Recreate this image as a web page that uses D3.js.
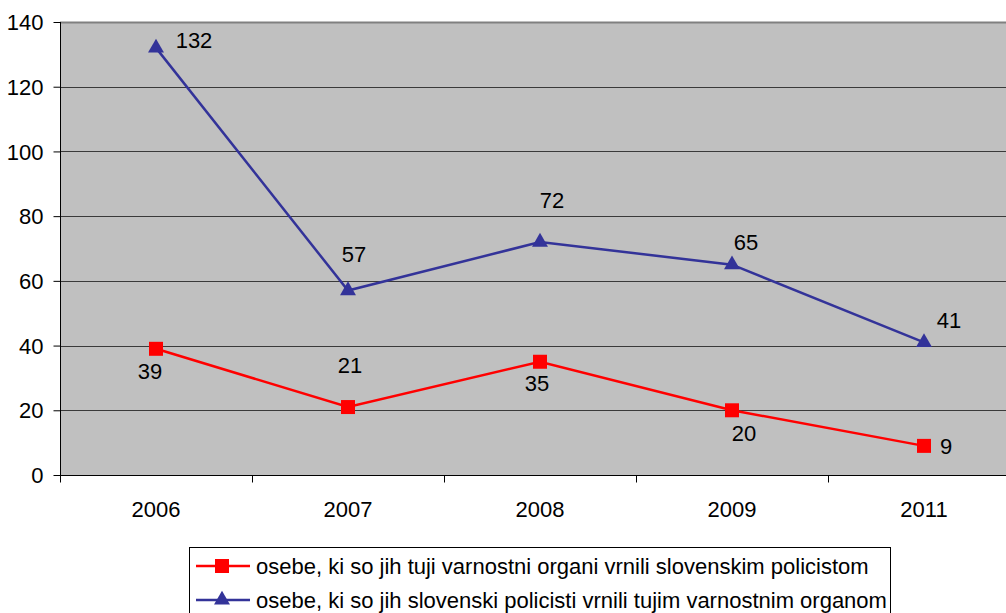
<html>
<head>
<script src="https://d3js.org/d3.v7.min.js"></script>
<style>
  body { margin: 0; background: #fff; }
  text { font-family: "Liberation Sans", Arial, sans-serif; fill: #000; }
</style>
</head>
<body>
<div id="chart"></div>
<script>
const years = ["2006", "2007", "2008", "2009", "2011"];
const redValues = [39, 21, 35, 20, 9];
const blueValues = [132, 57, 72, 65, 41];
const yTicks = [0, 20, 40, 60, 80, 100, 120, 140];
const seriesNames = [
  "osebe, ki so jih tuji varnostni organi vrnili slovenskim policistom",
  "osebe, ki so jih slovenski policisti vrnili tujim varnostnim organom"
];
// label placement per point: [dx, dy]
const redLabelPos = [[-6, 22], [2, -42], [-3, 22], [12, 23], [22, 0]];
const blueLabelPos = [[38, -8], [6, -36], [12, -42], [14, -22], [25, -22]];

const fontSize = "22px";

const svg = d3.select("#chart").append("svg")
  .attr("width", 1006).attr("height", 613);

const margin = { left: 60, top: 22 };
const plotW = 960, plotH = 453;

const x = d3.scaleBand().domain(years).range([margin.left, margin.left + plotW]);
const y = d3.scaleLinear().domain([0, 140]).range([margin.top + plotH, margin.top]);

svg.append("rect")
  .attr("x", margin.left).attr("y", margin.top)
  .attr("width", plotW).attr("height", plotH)
  .attr("fill", "#c0c0c0");

// gridlines
svg.append("g").selectAll("line")
  .data(yTicks.filter(d => d > 0))
  .join("line")
  .attr("x1", margin.left).attr("x2", margin.left + plotW)
  .attr("y1", d => Math.round(y(d)) + 0.5).attr("y2", d => Math.round(y(d)) + 0.5)
  .attr("stroke", d => d === 140 ? "#808080" : "#3a3a3a")
  .attr("stroke-width", d => d === 140 ? 2 : 1);

// y axis
const yAxis = svg.append("g")
  .attr("transform", `translate(${margin.left + 0.5},0)`)
  .call(d3.axisLeft(y).tickValues(yTicks).tickSize(7).tickPadding(10));
yAxis.selectAll("text").style("font-size", fontSize).attr("dy", "0.35em");
yAxis.selectAll("line, path").attr("stroke", "#000");
yAxis.select(".domain").attr("d", `M0,${margin.top}V${margin.top + plotH}`);

// x axis
const xAxis = svg.append("g")
  .attr("transform", `translate(0,${margin.top + plotH + 0.5})`)
  .call(d3.axisBottom(x).tickSize(0).tickPadding(26));
xAxis.selectAll("text").style("font-size", fontSize);
xAxis.select(".domain").attr("stroke", "#000").attr("d", `M${margin.left},0H${margin.left + plotW}`);
xAxis.selectAll(".bnd").data(d3.range(years.length + 1)).join("line")
  .attr("x1", i => Math.round(margin.left + i * x.bandwidth()) + 0.5)
  .attr("x2", i => Math.round(margin.left + i * x.bandwidth()) + 0.5)
  .attr("y1", 0).attr("y2", 7).attr("stroke", "#000");

const cx = d => x(d) + x.bandwidth() / 2;

function drawSeries(values, color, marker, labelPos) {
  const pts = values.map((v, i) => ({ year: years[i], v, i }));
  svg.append("path")
    .datum(pts)
    .attr("fill", "none").attr("stroke", color).attr("stroke-width", 2.5)
    .attr("d", d3.line().x(d => cx(d.year)).y(d => y(d.v)));
  svg.append("g").selectAll("path")
    .data(pts).join("path")
    .attr("d", d3.symbol().type(marker).size(marker === d3.symbolSquare ? 196 : 110))
    .attr("transform", d => `translate(${cx(d.year)},${y(d.v)})`)
    .attr("fill", color);
  svg.append("g").selectAll("text")
    .data(pts).join("text")
    .attr("x", d => cx(d.year) + labelPos[d.i][0])
    .attr("y", d => y(d.v) + labelPos[d.i][1])
    .attr("text-anchor", "middle").attr("dy", "0.35em")
    .style("font-size", fontSize)
    .text(d => d.v);
}

drawSeries(redValues, "#ff0000", d3.symbolSquare, redLabelPos);
drawSeries(blueValues, "#333399", d3.symbolTriangle, blueLabelPos);

// legend
const legend = svg.append("g");
legend.append("rect")
  .attr("x", 189.5).attr("y", 547.5).attr("width", 701).attr("height", 80)
  .attr("fill", "#fff").attr("stroke", "#000");
const legendItems = [
  { name: seriesNames[0], color: "#ff0000", marker: d3.symbolSquare, size: 196 },
  { name: seriesNames[1], color: "#333399", marker: d3.symbolTriangle, size: 110 }
];
legendItems.forEach((it, i) => {
  const ly = 566 + i * 34;
  legend.append("line").attr("x1", 196).attr("x2", 250).attr("y1", ly).attr("y2", ly)
    .attr("stroke", it.color).attr("stroke-width", 2.5);
  legend.append("path").attr("d", d3.symbol().type(it.marker).size(it.size)())
    .attr("transform", `translate(222,${ly})`).attr("fill", it.color);
  legend.append("text").attr("x", 256).attr("y", ly).attr("dy", "0.35em")
    .style("font-size", fontSize).text(it.name);
});
</script>
</body>
</html>
